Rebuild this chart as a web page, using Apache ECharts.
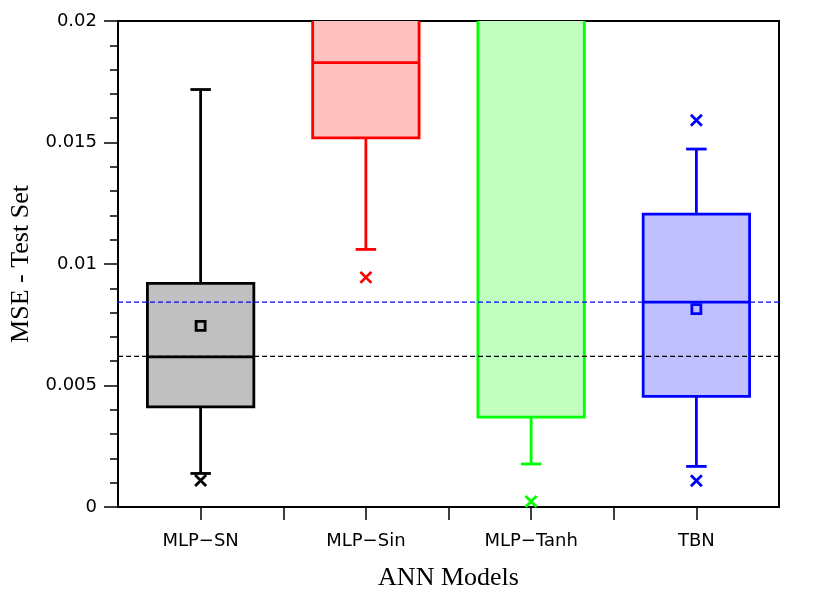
<!DOCTYPE html>
<html>
<head>
<meta charset="utf-8">
<script src="https://cdn.jsdelivr.net/npm/echarts@6/dist/echarts.min.js"></script>
<style>
  html, body { margin: 0; padding: 0; background: #fff; }
  #chart { width: 830px; height: 608px; }
</style>
</head>
<body>
<div id="chart"></div>
<script>
// data
var categories = ['MLP\u2212SN', 'MLP\u2212Sin', 'MLP\u2212Tanh', 'TBN'];
var boxMin    = [0.00138, 0.0106,  0.00177, 0.00167];
var boxQ1     = [0.00412, 0.01519, 0.0037,  0.00455];
var boxMedian = [0.00618, 0.01829, 0.026,   0.00843];
var boxQ3     = [0.0092,  0.0215,  0.034,   0.01205];
var boxMax    = [0.01718, 0.024,   0.042,   0.01473];
var meanValues = [0.00745, null, null, 0.00814];
var outliers = [[0.00109], [0.00945], [0.00023], [0.01592, 0.00108]];
var refLines = [0.00843, 0.0062];
var yTicks = [0, 0.005, 0.01, 0.015, 0.02];

var lineColors = ['#000000', '#ff0000', '#00ff00', '#0000ff'];
var fillColors = ['#c0c0c0', '#ffc0c0', '#c0ffc0', '#c0c0ff'];
var refColors = ['#0000ff', '#000000'];
var BOX_HALF = 0.322, CAP_HALF = 0.062;

var boxData = categories.map(function(c, i) {
  return [i, boxMin[i], boxQ1[i], boxMedian[i], boxQ3[i], boxMax[i]];
});

var meanData = [];
meanValues.forEach(function(v, i) {
  if (v == null) return;
  meanData.push({ value: [i, v], itemStyle: { borderColor: lineColors[i] } });
});
var outlierData = [];
outliers.forEach(function(list, i) {
  list.forEach(function(v) {
    outlierData.push({ value: [i, v], itemStyle: { borderColor: lineColors[i] } });
  });
});

function renderBox(params, api) {
  var i = params.dataIndex;
  var x = api.value(0);
  var lo = api.coord([x - BOX_HALF, api.value(2)]);
  var hi = api.coord([x + BOX_HALF, api.value(4)]);
  var med = api.coord([x, api.value(3)]);
  var pMin = api.coord([x, api.value(1)]);
  var pMax = api.coord([x, api.value(5)]);
  var capL = api.coord([x - CAP_HALF, 0])[0];
  var capR = api.coord([x + CAP_HALF, 0])[0];
  var ls = { stroke: lineColors[i], lineWidth: 2.8 };
  return {
    type: 'group',
    children: [
      { type: 'line', shape: { x1: med[0], y1: lo[1], x2: med[0], y2: pMin[1] }, style: ls },
      { type: 'line', shape: { x1: med[0], y1: hi[1], x2: med[0], y2: pMax[1] }, style: ls },
      { type: 'line', shape: { x1: capL, y1: pMin[1], x2: capR, y2: pMin[1] }, style: ls },
      { type: 'line', shape: { x1: capL, y1: pMax[1], x2: capR, y2: pMax[1] }, style: ls },
      { type: 'rect', shape: { x: lo[0], y: hi[1], width: hi[0] - lo[0], height: lo[1] - hi[1] },
        style: { fill: fillColors[i], stroke: lineColors[i], lineWidth: 2.8 } },
      { type: 'line', shape: { x1: lo[0], y1: med[1], x2: hi[0], y2: med[1] }, style: ls }
    ]
  };
}

// dashed reference lines across the whole plot
var refSeries = refLines.map(function(v, i) {
  return {
    type: 'line', name: 'ref' + i, z: 3, silent: true,
    symbol: 'none',
    lineStyle: { color: refColors[i], type: [5, 3], width: 1.2 },
    data: [[-0.5, v], [3.5, v]]
  };
});

var chart = echarts.init(document.getElementById('chart'));
var option = {
  animation: false,
  grid: { left: 118, right: 51, top: 21, bottom: 101, show: true, borderColor: '#000', borderWidth: 2 },
  xAxis: {
    type: 'value', min: -0.5, max: 3.5, interval: 0.5,
    name: 'ANN Models', nameLocation: 'middle', nameGap: 58,
    nameTextStyle: { fontFamily: 'Liberation Serif', fontSize: 26, color: '#000' },
    axisLine: { onZero: false, lineStyle: { color: '#000', width: 2 } },
    axisTick: { show: true, length: 13, customValues: [0, 0.5, 1, 1.5, 2, 2.5, 3], lineStyle: { color: '#000', width: 1.5 } },
    axisLabel: {
      customValues: [0, 1, 2, 3], margin: 25,
      fontFamily: 'DejaVu Sans', fontSize: 18, color: '#000',
      formatter: function(v) { return categories[Math.round(v)] || ''; }
    },
    splitLine: { show: false }
  },
  yAxis: {
    type: 'value', min: 0, max: 0.02, interval: 0.005,
    name: 'MSE - Test Set', nameLocation: 'middle', nameGap: 76,
    nameTextStyle: { fontFamily: 'Liberation Serif', fontSize: 26, color: '#000' },
    axisLine: { show: true, onZero: false, lineStyle: { color: '#000', width: 2 } },
    axisTick: { show: true, length: 14, lineStyle: { color: '#000', width: 1.5 } },
    minorTick: { show: true, splitNumber: 5, length: 8, lineStyle: { color: '#000', width: 1.5 } },
    axisLabel: {
      margin: 21, fontFamily: 'DejaVu Sans', fontSize: 18, color: '#000',
      formatter: function(v) {
        var t = yTicks.filter(function(k) { return Math.abs(k - v) < 1e-9; })[0];
        return t === 0 ? '0' : String(t);
      }
    },
    splitLine: { show: false }
  },
  series: [
    {
      type: 'custom', name: 'boxes', z: 2, clip: true,
      renderItem: renderBox,
      encode: { x: 0, y: [1, 2, 3, 4, 5] },
      data: boxData
    }
  ].concat(refSeries, [
    {
      type: 'scatter', name: 'mean', z: 4,
      symbol: 'rect', symbolSize: 9,
      itemStyle: { color: 'transparent', borderWidth: 2.8, opacity: 1 },
      data: meanData
    },
    {
      type: 'scatter', name: 'outliers', z: 4,
      symbol: 'path://M0,0L10,10M10,0L0,10', symbolSize: 11,
      itemStyle: { color: 'transparent', borderWidth: 2.8, opacity: 1 },
      data: outlierData
    }
  ])
};
chart.setOption(option);
</script>
</body>
</html>
